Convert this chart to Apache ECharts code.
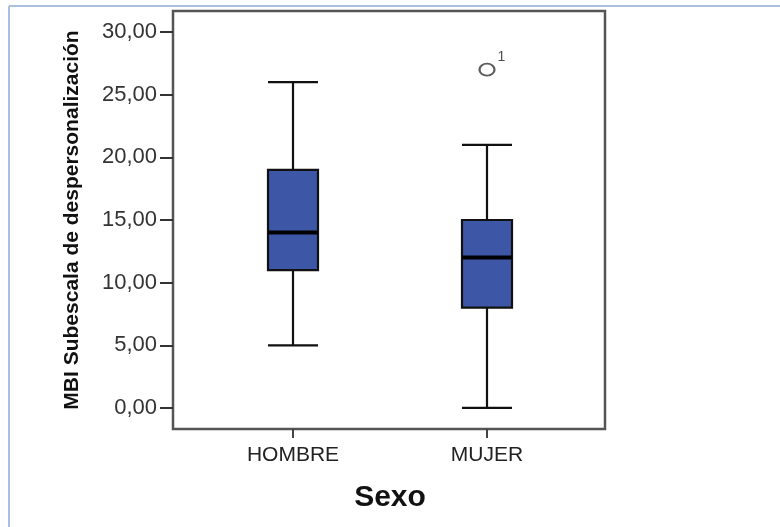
<!DOCTYPE html>
<html>
<head>
<meta charset="utf-8">
<script src="https://cdn.jsdelivr.net/npm/echarts@6/dist/echarts.min.js"></script>
<style>html,body{margin:0;padding:0;background:#fff}#c{width:780px;height:527px}</style>
</head>
<body>
<div id="c"></div>
<script>
var categories = ['HOMBRE', 'MUJER'];
// [min, Q1, median, Q3, max]
var hombre = [5, 11, 14, 19, 26];
var mujer = [0, 8, 12, 15, 21];
var outlierValues = [[1, 27]];
var outlierLabels = ['1'];
var yTicks = [0, 5, 10, 15, 20, 25, 30];
var yMin = -1.68, yMax = 31.68;

var boxData = [hombre, mujer];

var chart = echarts.init(document.getElementById('c'), null, {renderer: 'canvas'});
var fmt = function (v) { return v.toFixed(2).replace('.', ','); };

chart.setOption({
  animation: false,
  backgroundColor: '#ffffff',
  graphic: [
    {type: 'line', shape: {x1: 9, y1: 6, x2: 780, y2: 6}, style: {stroke: '#a9c1dc', lineWidth: 2}, z: 100},
    {type: 'line', shape: {x1: 9, y1: 6, x2: 9, y2: 527}, style: {stroke: '#a9c1dc', lineWidth: 2}, z: 100}
  ],
  grid: [
    {left: 173, right: 175, top: 11, bottom: 98, show: true, borderColor: '#555555', borderWidth: 2.5, backgroundColor: '#ffffff', z: 0},
    {left: 196, right: 196, top: 11, bottom: 98}
  ],
  xAxis: [
    {gridIndex: 0, type: 'category', data: categories, show: false},
    {gridIndex: 1, type: 'category', data: categories, position: 'bottom',
      axisLine: {show: false, onZero: false},
      axisTick: {show: true, alignWithLabel: true, length: 9, lineStyle: {color: '#444', width: 2}},
      axisLabel: {color: '#222', fontSize: 21, fontFamily: 'Liberation Sans, Arial', margin: 16},
      name: 'Sexo', nameLocation: 'middle', nameGap: 54,
      nameTextStyle: {fontSize: 30, fontWeight: 'bold', color: '#111', fontFamily: 'Liberation Sans, Arial'}
    }
  ],
  yAxis: [
    {gridIndex: 0, type: 'value', min: yMin, max: yMax,
      axisLine: {show: false},
      splitLine: {show: false},
      axisTick: {show: true, length: 13, customValues: yTicks, lineStyle: {color: '#333', width: 2}},
      axisLabel: {customValues: yTicks, formatter: fmt, color: '#333', fontSize: 22, fontFamily: 'Liberation Sans, Arial', margin: 16},
      name: 'MBI Subescala de despersonalización', nameLocation: 'middle', nameGap: 90, nameRotate: 90,
      nameTextStyle: {fontSize: 21, fontWeight: 'bold', color: '#111', fontFamily: 'Liberation Sans Narrow, Liberation Sans, Arial'}
    },
    {gridIndex: 1, type: 'value', min: yMin, max: yMax, show: false, splitLine: {show: false}}
  ],
  series: [
    {
      type: 'boxplot', xAxisIndex: 1, yAxisIndex: 1,
      data: boxData,
      boxWidth: [50, 50],
      itemStyle: {color: '#3d56a6', borderColor: '#111', borderWidth: 2.2},
      z: 5
    },
    {
      type: 'custom', xAxisIndex: 1, yAxisIndex: 1,
      data: boxData.map(function (d, i) { return [i, d[2]]; }),
      renderItem: function (params, api) {
        var p = api.coord([api.value(0), api.value(1)]);
        var half = 25;
        return {type: 'line', shape: {x1: p[0] - half, y1: p[1], x2: p[0] + half, y2: p[1]},
          style: {stroke: '#000', lineWidth: 4}};
      },
      z: 6
    },
    {
      type: 'scatter', xAxisIndex: 1, yAxisIndex: 1,
      data: outlierValues.map(function (d, i) { return {value: d, label: {formatter: outlierLabels[i]}}; }),
      symbol: 'circle', symbolSize: [15, 12],
      itemStyle: {color: '#fff', borderColor: '#333', borderWidth: 2},
      label: {show: true, position: [19, -13], fontSize: 14, color: '#222', fontFamily: 'Liberation Sans, Arial'},
      z: 7
    }
  ]
});
</script>
</body>
</html>
